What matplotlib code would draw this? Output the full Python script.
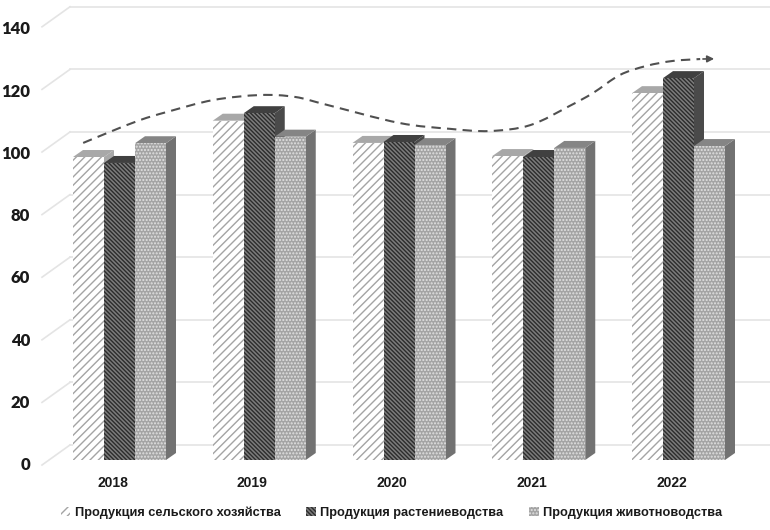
import numpy as np
import matplotlib.pyplot as plt
from matplotlib.patches import Polygon, Patch, PathPatch
from matplotlib.path import Path

years = ['2018', '2019', '2020', '2021', '2022']
names = ['Продукция сельского хозяйства', 'Продукция растениеводства', 'Продукция животноводства']
selhoz = [96.8, 108.4, 101.3, 97.1, 117.2]
rasten = [94.9, 110.8, 101.6, 96.8, 122.0]
zhivot = [101.2, 103.3, 100.6, 99.7, 100.3]
yticks = [0, 20, 40, 60, 80, 100, 120, 140]

# trend line
trend_x = [-0.26, -0.07, 0.147, 0.34, 0.67, 1.005, 1.255, 1.49, 2.0, 2.365, 2.65, 2.94, 3.22, 3.39, 3.58, 3.77, 3.96, 4.155]
trend_y = [101.3, 104.8, 108.6, 111.2, 115.0, 116.6, 116.0, 113.4, 107.7, 105.8, 105.1, 107.0, 113.1, 117.3, 123.0, 125.9, 127.5, 128.1]

plt.rcParams['font.family'] = ['Liberation Sans', 'DejaVu Sans']
plt.rcParams['hatch.linewidth'] = 1.0

# one data unit in pixels
px_x = 139.75
px_y = 3.13
w = 31 / px_x
dx = 10 / px_x
dy = 7 / px_y

fig = plt.figure(figsize=(7.7, 5.3), dpi=100)
ax = fig.add_axes([0, 0, 1, 1])
ax.set_xlim(-119.5 / px_x, (770 - 119.5) / px_x)
ax.set_ylim(-70 / px_y, 460 / px_y)
ax.axis('off')

# walls: back lines and the slanted bits at the left
x_front = (42 - 119.5) / px_x
x_back = (70 - 119.5) / px_x
x_end = (770 - 119.5) / px_x
for v in yticks:
    ax.plot([x_front, x_back], [v - 1.6, v + 4.8], color='#e4e4e4', lw=1.2, zorder=1)
    ax.plot([x_back, x_end], [v + 4.8, v + 4.8], color='#e4e4e4', lw=1.2, zorder=1)
    ax.text((30 - 119.5) / px_x, v * 0.995 - 1.7, str(v), ha='right', va='center', fontsize=12, fontweight=800,
            family='Lato', color='#1a1a1a')

styles = [
    dict(face='#ffffff', edge='#a4a4a4', hatch='////', top='#a8a8a8', side='#a8a8a8'),
    dict(face='#7c7c7c', edge='#2c2c2c', hatch='\\\\\\\\\\\\\\\\', top='#404040', side='#4a4a4a'),
    dict(face='#a4a4a4', edge='#e2e2e2', hatch='.....', top='#858585', side='#727272'),
]

for k, vals in enumerate([selhoz, rasten, zhivot]):
    st = styles[k]
    for i, v in enumerate(vals):
        x0 = i + (k - 1.5) * w
        x1 = x0 + w
        z = 3 + i + k * 0.1
        # side and top first, front over them
        ax.add_patch(Polygon([(x1, 0), (x1 + dx, dy), (x1 + dx, v + dy), (x1, v)], fc=st['side'], ec='none', zorder=z))
        ax.add_patch(Polygon([(x0, v), (x0 + dx, v + dy), (x1 + dx, v + dy), (x1, v)], fc=st['top'], ec='none', zorder=z))
        ax.bar(x0, v, width=w, align='edge', color=st['face'], edgecolor=st['edge'], hatch=st['hatch'], lw=0, zorder=z + 0.05)

for i, y in enumerate(years):
    ax.text(i - 7 / px_x, -7.2, y, ha='center', va='center', fontsize=10, fontweight='bold', color='#1a1a1a')

# dashed trend with arrow head, read points joined by a smooth curve
pts = np.column_stack([trend_x, trend_y])
verts = [pts[0]]
codes = [Path.MOVETO]
for i in range(len(pts) - 1):
    p0 = pts[max(i - 1, 0)]
    p1 = pts[i]
    p2 = pts[i + 1]
    p3 = pts[min(i + 2, len(pts) - 1)]
    verts += [p1 + (p2 - p0) / 6, p2 - (p3 - p1) / 6, p2]
    codes += [Path.CURVE4] * 3
ax.add_patch(PathPatch(Path(verts, codes), fc='none', ec='#505050', lw=1.5, ls=(0, (4.5, 3)), zorder=20))
ax.annotate('', xy=(trend_x[-1] + 0.12, trend_y[-1] + 0.1), xytext=(trend_x[-1], trend_y[-1]),
            arrowprops=dict(arrowstyle='-|>', color='#505050', lw=1.2, mutation_scale=10), zorder=20)

handles = [Patch(facecolor=s['face'], edgecolor=s['edge'], hatch=s['hatch'], lw=0) for s in styles]
ax.legend(handles, names, loc='center', bbox_to_anchor=(391.5 / 770, 1 - 513 / 530), ncol=3, frameon=False,
          prop=dict(size=9.2, weight='bold'), handlelength=0.75, handleheight=0.75,
          handletextpad=0.35, columnspacing=2.0, labelcolor='#1a1a1a')

plt.savefig('out.png', dpi=100)
